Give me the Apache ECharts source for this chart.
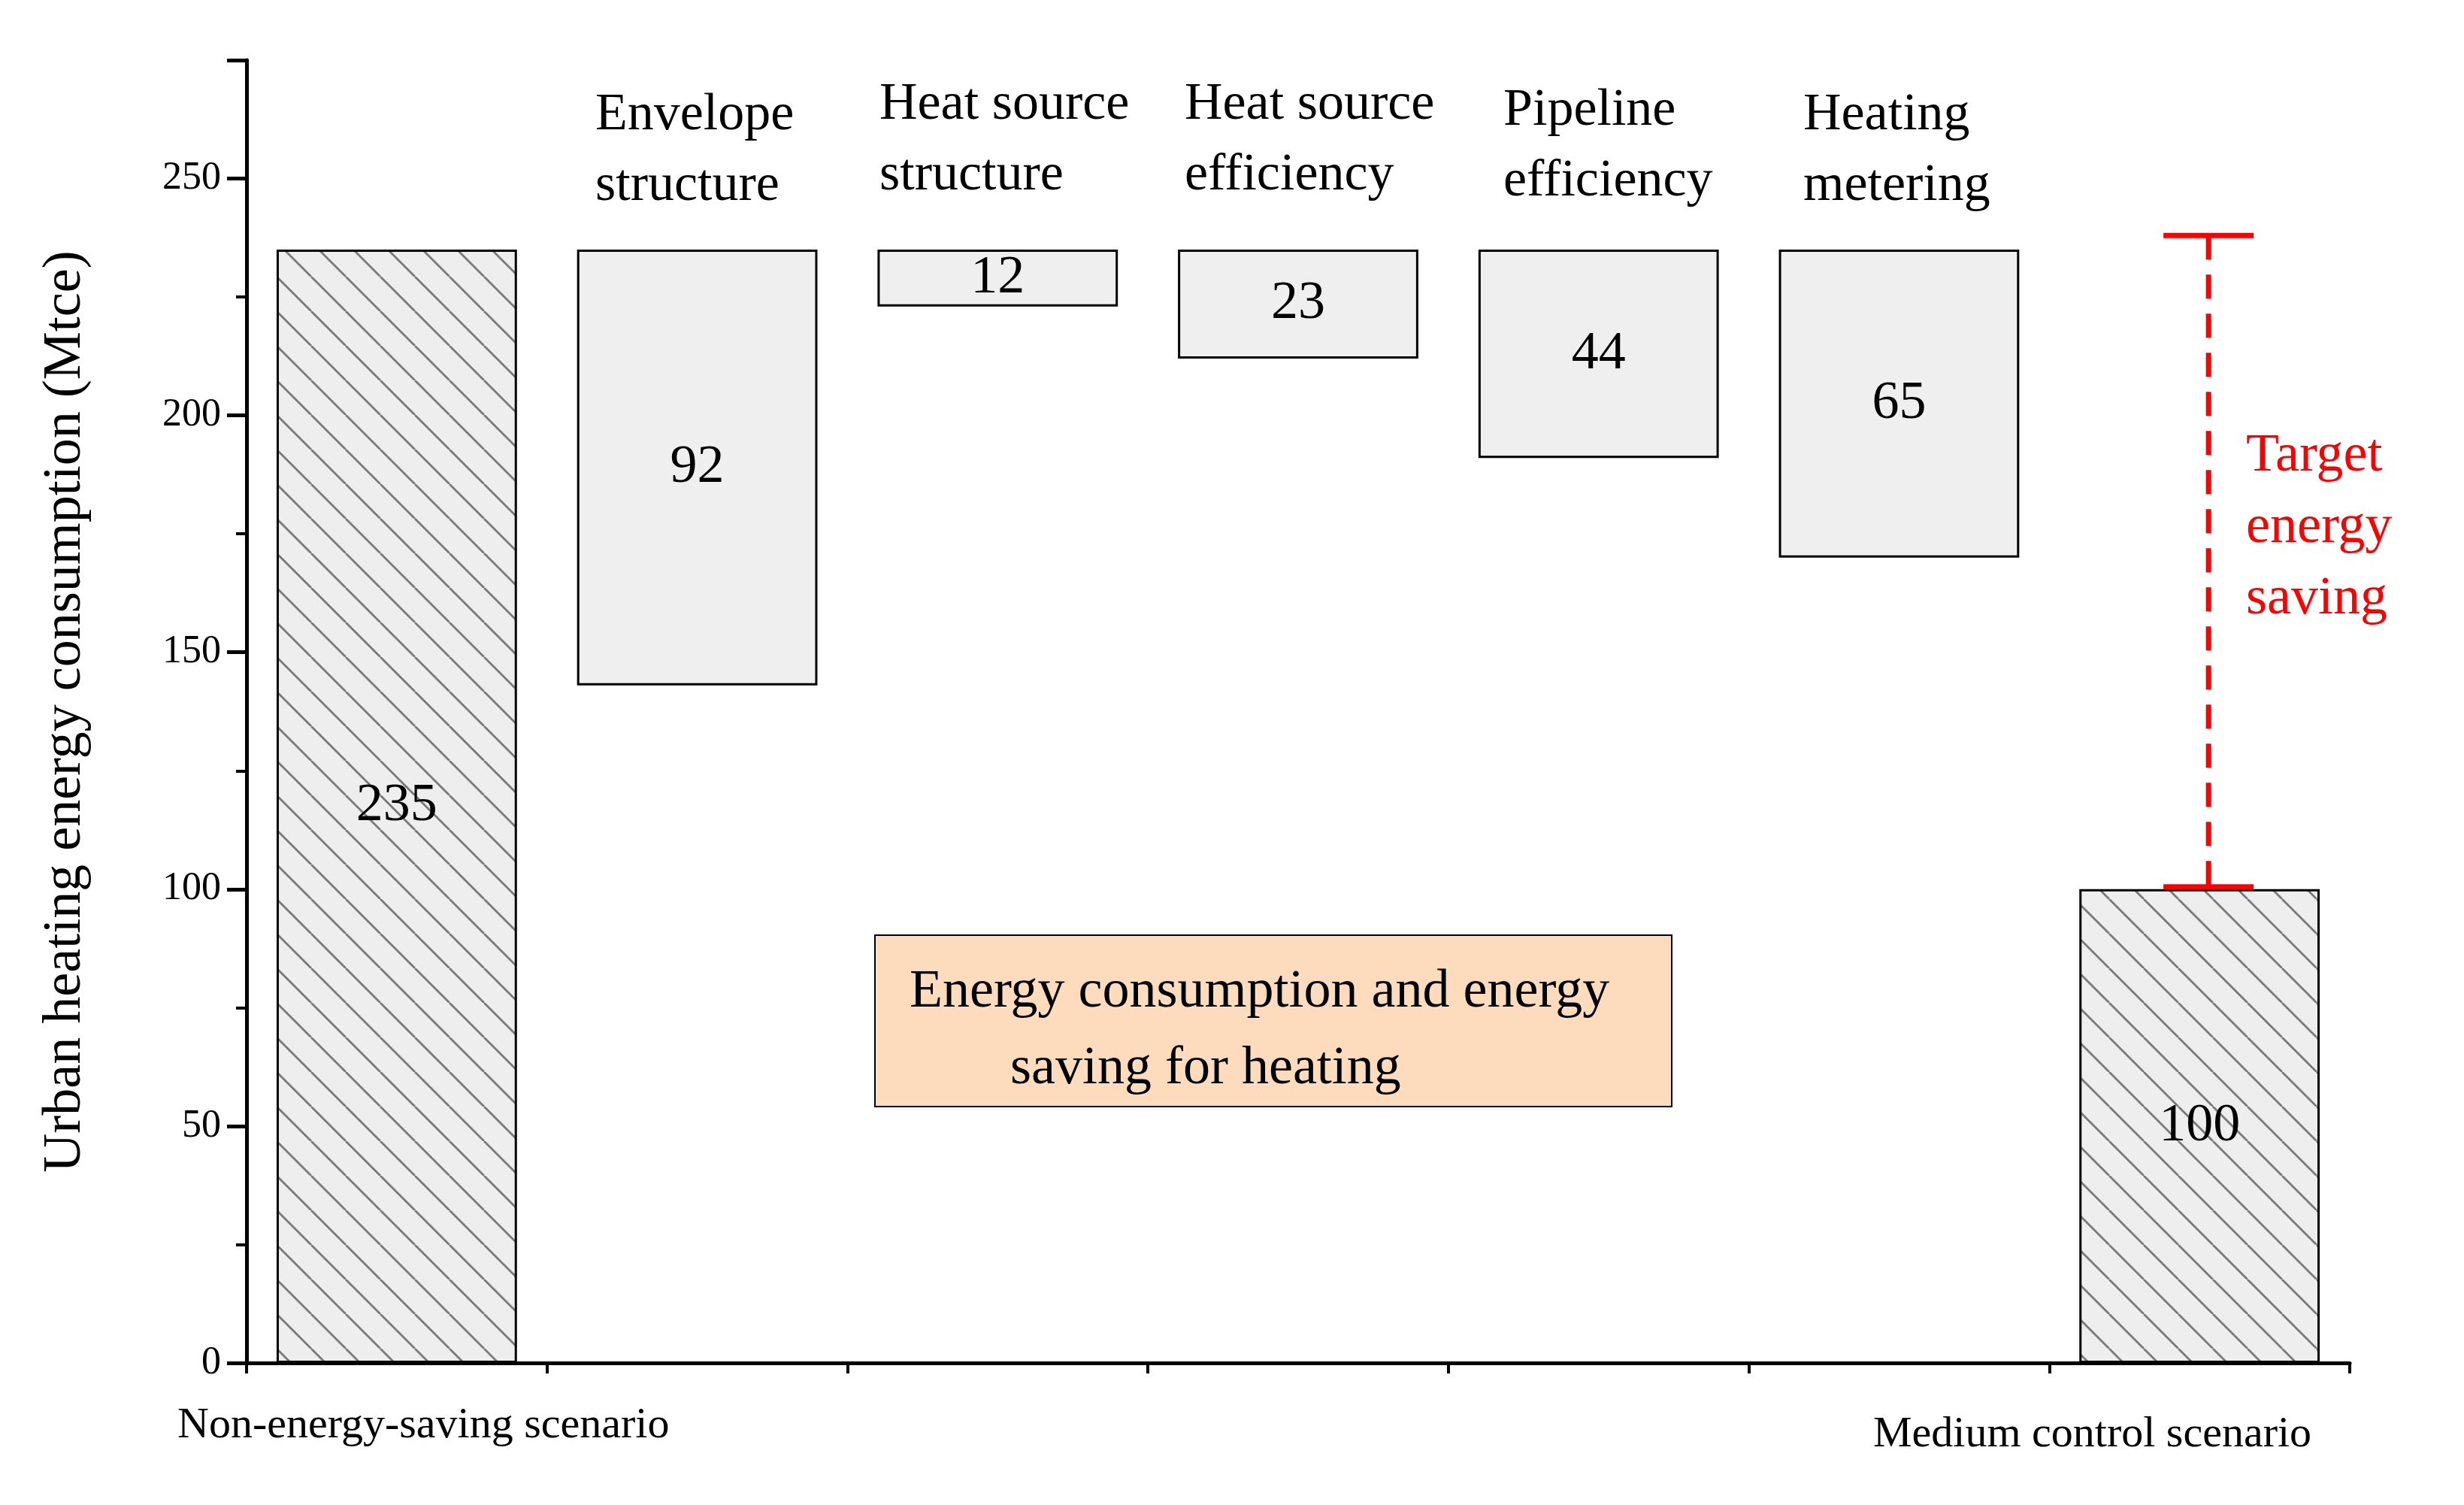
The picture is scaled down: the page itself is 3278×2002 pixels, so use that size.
<!DOCTYPE html>
<html><head><meta charset="utf-8">
<script src="https://cdn.jsdelivr.net/npm/echarts@6/dist/echarts.min.js"></script>
<style>html,body{margin:0;background:#fff}#c{width:3278px;height:2002px}</style>
</head><body><div id="c"></div>
<script>
const categories = ['Non-energy-saving scenario','Envelope structure','Heat source structure','Heat source efficiency','Pipeline efficiency','Heating metering','Medium control scenario'];
const totals = [235, null, null, null, null, null, 100];
const savings = [null, 92, 12, 23, 44, 65, null];
const startLevel = 235;
const target = [238, 100.5];
const yTicks = [0, 50, 100, 150, 200, 250];

const F = "'Liberation Serif', 'Times New Roman', serif";
const cv = document.createElement('canvas'); cv.width = 46; cv.height = 46;
const g = cv.getContext('2d');
g.fillStyle = '#eeeeee'; g.fillRect(0,0,46,46);
g.strokeStyle = '#7a7a7a'; g.lineWidth = 2.8;
[-46,0,46].forEach(dx=>{g.beginPath();g.moveTo(dx,0);g.lineTo(dx+46,46);g.stroke();});

const base = savings.map(v => v == null ? null : startLevel - v);
const chart = echarts.init(document.getElementById('c'));
const lblStyle = {show:true, position:'inside', fontFamily:F, fontSize:72, color:'#000'};
chart.setOption({
  animation:false,
  grid:{left:328, right:152, top:80, bottom:189},
  xAxis:[{type:'category', data:categories,
    axisLine:{lineStyle:{color:'#000', width:5}},
    axisTick:{alignWithLabel:true, interval:0, length:26, lineStyle:{color:'#000', width:5}},
    axisLabel:{show:false}},
    {type:'category', data:categories, position:'bottom',
    axisLine:{show:false}, axisLabel:{show:false},
    axisTick:{show:true, interval:0, length:14, lineStyle:{color:'#000', width:4}}}],
  yAxis:{type:'value', min:0, max:275, interval:50,
    name:'Urban heating energy consumption (Mtce)', nameLocation:'middle', nameGap:205,
    nameTextStyle:{fontFamily:F, fontSize:72, color:'#000'},
    axisLine:{show:true, lineStyle:{color:'#000', width:5}},
    axisTick:{show:true, length:26, lineStyle:{color:'#000', width:5}},
    minorTick:{show:true, splitNumber:2, length:14, lineStyle:{color:'#000', width:4}},
    splitLine:{show:false},
    axisLabel:{fontFamily:F, fontSize:52, color:'#000', margin:34, showMaxLabel:false,
      formatter:v => yTicks.includes(v) ? String(v) : ''}},
  series:[
    {type:'bar', stack:'a', data:base, itemStyle:{color:'transparent'}, barCategoryGap:'20%', silent:true},
    {type:'bar', stack:'a', data:savings, itemStyle:{color:'#efefef', borderColor:'#000', borderWidth:3}, label:lblStyle},
    {type:'bar', stack:'a', data:totals, itemStyle:{color:{image:cv, repeat:'repeat'}, borderColor:'#000', borderWidth:3}, label:lblStyle},
    {type:'custom', data:[[6, target[0], target[1]]], z:10,
      renderItem:(p, api)=>{
        const a = api.coord([api.value(0), api.value(1)]);
        const b = api.coord([api.value(0), api.value(2)]);
        const x = a[0] + 12, hw = 60;
        const st = {stroke:'#ff0000', lineWidth:7};
        return {type:'group', children:[
          {type:'line', shape:{x1:x, y1:a[1], x2:x, y2:b[1]}, style:Object.assign({lineDash:[32,20]}, st)},
          {type:'line', shape:{x1:x-hw, y1:a[1], x2:x+hw, y2:a[1]}, style:st},
          {type:'line', shape:{x1:x-hw, y1:b[1], x2:x+hw, y2:b[1]}, style:st}]};
      }}
  ],
  graphic:[
    ...[['Envelope\nstructure',792,107],['Heat source\nstructure',1170,93],['Heat source\nefficiency',1576,93],['Pipeline\nefficiency',2000,101],['Heating\nmetering',2399,107]]
      .map(([t,x,y])=>({type:'text', left:x, top:y, style:{text:t, fontFamily:F, fontSize:70, lineHeight:94, fill:'#000'}})),
    {type:'text', left:2988, top:560, style:{text:'Target\nenergy\nsaving', fontFamily:F, fontSize:72, lineHeight:95, fill:'#ff0000'}},
    {type:'rect', shape:{x:1164, y:1244, width:1060, height:228}, style:{fill:'#fddcbd', stroke:'#000', lineWidth:2}},
    {type:'text', left:1210, top:1284, style:{text:'Energy consumption and energy', fontFamily:F, fontSize:72, fill:'#000'}},
    {type:'text', left:1344, top:1386, style:{text:'saving for heating', fontFamily:F, fontSize:72, fill:'#000'}},
    {type:'text', left:236, top:1868, style:{text:categories[0], fontFamily:F, fontSize:58, fill:'#000'}},
    {type:'text', left:2492, top:1880, style:{text:categories[6], fontFamily:F, fontSize:58, fill:'#000'}}
  ]
});
</script></body></html>
